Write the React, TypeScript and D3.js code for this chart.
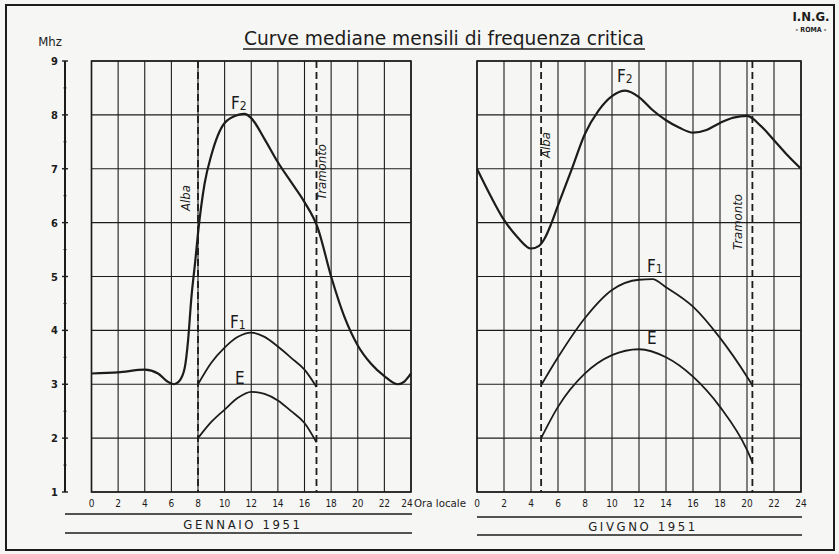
import React from 'react';
import * as d3 from 'd3';

// Gennaio 1951 (hours, MHz)
const janF2: [number, number][] = [
  [0, 3.2], [2, 3.22], [4, 3.27], [5, 3.2], [5.7, 3.05], [6.2, 3.0], [6.6, 3.06],
  [7, 3.3], [7.25, 3.8], [7.5, 4.6], [7.8, 5.3], [8, 5.8], [8.5, 6.73], [9, 7.25],
  [10, 7.85], [11, 8.0], [11.5, 8.02], [12, 7.94], [13, 7.55], [14, 7.12], [15, 6.75],
  [16, 6.38], [17, 5.9], [18, 5.0], [19, 4.25], [20, 3.72], [21, 3.38], [22, 3.15],
  [23, 3.0], [23.5, 3.05], [24, 3.2]
];
const janF1: [number, number][] = [
  [8, 3.0], [9, 3.4], [10, 3.68], [11, 3.88], [12, 3.96], [13, 3.88], [14, 3.7],
  [15, 3.49], [16, 3.27], [16.9, 2.95]
];
const janE: [number, number][] = [
  [8, 2.0], [9, 2.3], [10, 2.53], [11, 2.75], [12, 2.86], [13, 2.82], [14, 2.7],
  [15, 2.5], [16, 2.28], [16.9, 1.92]
];

// Giugno 1951
const junF2: [number, number][] = [
  [0, 7.0], [1, 6.5], [2, 6.05], [3, 5.73], [4, 5.52], [4.6, 5.57], [5, 5.7], [5.5, 5.98],
  [6, 6.32], [7, 6.98], [8, 7.65], [9, 8.08], [10, 8.35], [11, 8.45], [12, 8.33],
  [13, 8.09], [14, 7.9], [15, 7.76], [16, 7.67], [17, 7.72], [18, 7.85], [19, 7.95],
  [20, 7.98], [21, 7.8], [22, 7.53], [23, 7.25], [24, 7.0]
];
const junF1: [number, number][] = [
  [4.75, 2.98], [6, 3.5], [8, 4.23], [10, 4.75], [12, 4.94], [13, 4.95], [14, 4.8],
  [16, 4.44], [18, 3.86], [20, 3.14], [20.4, 2.98]
];
const junE: [number, number][] = [
  [4.75, 2.0], [6, 2.58], [8, 3.2], [10, 3.54], [12, 3.65], [14, 3.5], [16, 3.14],
  [18, 2.58], [20, 1.78], [20.4, 1.55]
];

const hourTicks = d3.range(0, 25, 2);
const mhzTicks = d3.range(1, 10);

const INK = '#1c1c1c';
const FONT = '"DejaVu Sans Condensed", "DejaVu Sans", sans-serif';

const yScale = d3.scaleLinear().domain([1, 9]).range([492, 61]);

interface PanelProps {
  x0: number;
  x1: number;
  ruleX0: number;
  f2: [number, number][];
  f1: [number, number][];
  e: [number, number][];
  alba: number;
  tramonto: number;
  month: string;
  monthX: number;
  lineY: [number, number];
  labels: { f2: [number, number]; f1: [number, number]; e: [number, number] };
  albaSide: number;
  tramontoSide: number;
  albaY: number;
  tramontoY: number;
}

const Panel: React.FC<PanelProps> = ({
  x0, x1, ruleX0, f2, f1, e, alba, tramonto, month, monthX, lineY, labels,
  albaSide, tramontoSide, albaY, tramontoY
}) => {
  const x = d3.scaleLinear().domain([0, 24]).range([x0, x1]);
  const line = d3.line<[number, number]>()
    .x(d => x(d[0]))
    .y(d => yScale(d[1]))
    .curve(d3.curveMonotoneX);

  return (
    <g>
      {/* grid */}
      {hourTicks.map(h => (
        <line key={'v' + h} x1={x(h)} x2={x(h)} y1={yScale(9)} y2={yScale(1)}
          stroke={INK} strokeWidth={1.1} />
      ))}
      {mhzTicks.map(v => (
        <line key={'h' + v} x1={x0} x2={x1} y1={yScale(v)} y2={yScale(v)}
          stroke={INK} strokeWidth={1.1} />
      ))}
      <rect x={x0} y={yScale(9)} width={x1 - x0} height={yScale(1) - yScale(9)}
        fill="none" stroke={INK} strokeWidth={1.6} />

      {/* sunrise / sunset */}
      {[alba, tramonto].map((h, i) => (
        <line key={'d' + i} x1={x(h)} x2={x(h)} y1={yScale(9)} y2={yScale(1)}
          stroke={INK} strokeWidth={1.8} strokeDasharray="7,4" />
      ))}
      <text transform={`translate(${x(alba) + albaSide},${albaY}) rotate(-90)`}
        textAnchor="middle" fontFamily={FONT} fontStyle="italic" fontSize={13} fill={INK}>Alba</text>
      <text transform={`translate(${x(tramonto) + tramontoSide},${tramontoY}) rotate(-90)`}
        textAnchor="middle" fontFamily={FONT} fontStyle="italic" fontSize={13} fill={INK}>Tramonto</text>

      {/* curves */}
      {[f2, f1, e].map((d, i) => (
        <path key={'c' + i} d={line(d) || ''} fill="none" stroke={INK}
          strokeWidth={i === 0 ? 2.2 : 1.8} strokeLinejoin="round" />
      ))}
      <text x={labels.f2[0]} y={labels.f2[1]} fontFamily={FONT} fontSize={17} fill={INK}>
        F<tspan fontSize={12} dy={1}>2</tspan>
      </text>
      <text x={labels.f1[0]} y={labels.f1[1]} fontFamily={FONT} fontSize={17} fill={INK}>
        F<tspan fontSize={12} dy={1}>1</tspan>
      </text>
      <text x={labels.e[0]} y={labels.e[1]} fontFamily={FONT} fontSize={17} fill={INK}>E</text>

      {/* hour ticks */}
      {hourTicks.map(h => (
        <text key={'t' + h} x={x(h) - (h === 24 && x0 < 200 ? 4 : 0)} y={507} textAnchor="middle"
          fontFamily={FONT} fontSize={10} fill={INK}>{h}</text>
      ))}

      {/* month label between rules */}
      <line x1={ruleX0} x2={x1 + 1} y1={lineY[0]} y2={lineY[0]} stroke={INK} strokeWidth={1.6} />
      <line x1={ruleX0} x2={x1 + 1} y1={lineY[1]} y2={lineY[1]} stroke={INK} strokeWidth={1.6} />
      <text x={monthX} y={(lineY[0] + lineY[1]) / 2 + 5}
        textAnchor="middle" fontFamily={FONT} fontSize={13} letterSpacing={2.6} fill={INK}>{month}</text>
    </g>
  );
};

export default function App() {
  return (
    <svg width={839} height={554} style={{ position: 'absolute', left: 0, top: 0, background: '#f6f6f4' }}>
      <rect x={6} y={5} width={828} height={545} fill="none" stroke={INK} strokeWidth={2} />

      <text x={444} y={45} textAnchor="middle" fontFamily={FONT} fontSize={19} fill={INK}
        textLength={400} lengthAdjust="spacingAndGlyphs">Curve mediane mensili di frequenza critica</text>
      <line x1={243} x2={645} y1={49} y2={49} stroke={INK} strokeWidth={1.4} />

      <text x={811} y={21} textAnchor="middle" fontFamily={FONT} fontWeight="bold" fontSize={13} fill={INK}>I.N.G.</text>
      <text x={811} y={32} textAnchor="middle" fontFamily={FONT} fontWeight="bold" fontSize={7} fill={INK}>- ROMA -</text>

      {/* y axis */}
      <text x={50} y={46} textAnchor="middle" fontFamily={FONT} fontSize={13} fill={INK}>Mhz</text>
      <line x1={65} x2={65} y1={yScale(9)} y2={yScale(1)} stroke={INK} strokeWidth={2} />
      {mhzTicks.map(v => (
        <g key={'y' + v}>
          <line x1={62} x2={68} y1={yScale(v)} y2={yScale(v)} stroke={INK} strokeWidth={1.4} />
          <text x={58} y={yScale(v) + 4} textAnchor="end" fontFamily={FONT} fontWeight="bold"
            fontSize={11} fill={INK}>{v}</text>
        </g>
      ))}
      {d3.range(1.5, 9, 1).map(v => (
        <line key={'m' + v} x1={63.5} x2={66.5} y1={yScale(v)} y2={yScale(v)} stroke={INK} strokeWidth={1} />
      ))}

      <Panel x0={91.5} x1={411} ruleX0={65} f2={janF2} f1={janF1} e={janE} alba={8} tramonto={16.9}
        month="GENNAIO  1951" monthX={243} lineY={[514, 533]}
        labels={{ f2: [231, 109], f1: [230, 328], e: [235, 384] }}
        albaSide={-8} albaY={198} tramontoSide={10} tramontoY={172} />
      <Panel x0={477} x1={801} ruleX0={477} f2={junF2} f1={junF1} e={junE} alba={4.75} tramonto={20.4}
        month="GIVGNO  1951" monthX={643} lineY={[517, 535]}
        labels={{ f2: [617, 82], f1: [647, 272], e: [647, 344] }}
        albaSide={9} albaY={145} tramontoSide={-10} tramontoY={222} />

      <text x={414} y={507} textAnchor="start" fontFamily={FONT} fontSize={10} fill={INK}
        textLength={52} lengthAdjust="spacingAndGlyphs">Ora locale</text>
    </svg>
  );
}
